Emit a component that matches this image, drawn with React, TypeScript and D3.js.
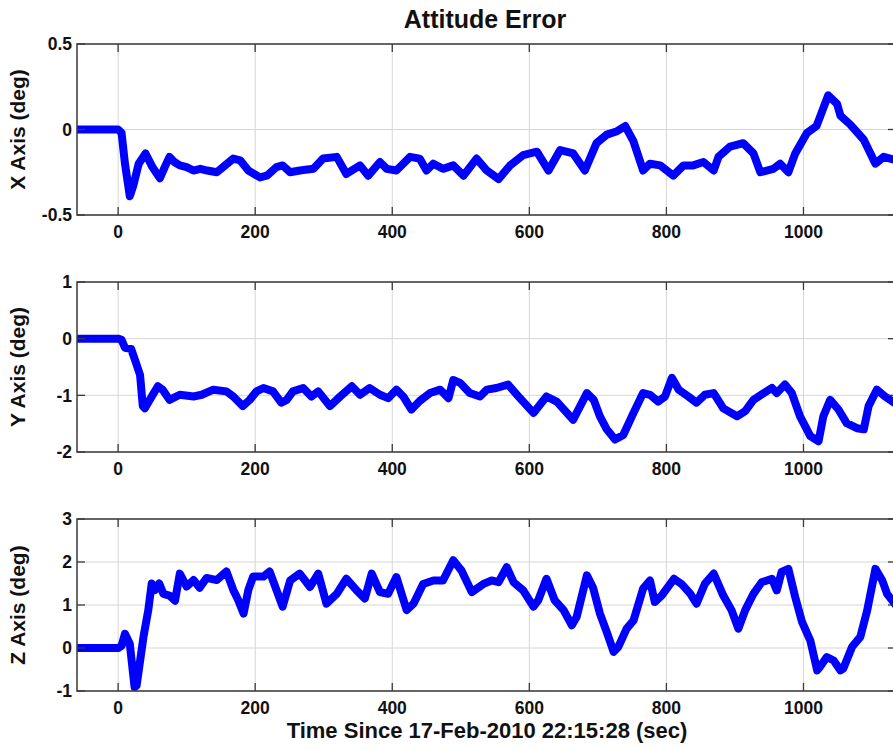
import React from "react";
import * as d3 from "d3";

// ---- Data (time in sec, attitude error in deg) ----
const xTicks = [0, 200, 400, 600, 800, 1000];

const xAxisErr: [number, number][] = [
  [-60, 0], [0, 0], [5, -0.02], [10, -0.2], [17, -0.39], [22, -0.33], [30, -0.2], [40, -0.14], [50, -0.22],
  [61, -0.285], [68, -0.22], [75, -0.16], [82, -0.19], [90, -0.21], [100, -0.22], [110, -0.24], [120, -0.23],
  [130, -0.24], [144, -0.25], [153, -0.22], [168, -0.17], [178, -0.18], [190, -0.24], [207, -0.28], [217, -0.27],
  [231, -0.22], [240, -0.21], [251, -0.25], [265, -0.24], [285, -0.23], [299, -0.17], [319, -0.16], [333, -0.26],
  [353, -0.21], [365, -0.27], [382, -0.19], [392, -0.23], [406, -0.24], [426, -0.16], [440, -0.17], [450, -0.24],
  [460, -0.2], [474, -0.23], [489, -0.21], [504, -0.27], [523, -0.17], [538, -0.24], [555, -0.29], [572, -0.21],
  [591, -0.15], [611, -0.13], [628, -0.24], [645, -0.12], [664, -0.14], [681, -0.24], [698, -0.08], [713, -0.03],
  [728, -0.01], [740, 0.02], [752, -0.07], [766, -0.24], [776, -0.2], [791, -0.21], [810, -0.27], [825, -0.21],
  [839, -0.21], [854, -0.19], [869, -0.24], [876, -0.16], [893, -0.1], [912, -0.08], [927, -0.14], [937, -0.25],
  [956, -0.23], [966, -0.2], [978, -0.25], [988, -0.14], [1005, -0.02], [1019, 0.02], [1036, 0.2], [1049, 0.15],
  [1054, 0.08], [1068, 0.03], [1088, -0.06], [1105, -0.2], [1117, -0.16], [1135, -0.18],
];

const yAxisErr: [number, number][] = [
  [-60, 0], [0, 0], [5, -0.02], [10, -0.16], [19, -0.18], [27, -0.46], [32, -0.64], [36, -1.19], [39, -1.23],
  [49, -1.02], [58, -0.84], [65, -0.9], [75, -1.08], [90, -0.99], [110, -1.02], [122, -0.99], [139, -0.9],
  [158, -0.93], [168, -1.02], [182, -1.19], [192, -1.08], [202, -0.93], [212, -0.87], [226, -0.93], [238, -1.13],
  [246, -1.08], [255, -0.93], [270, -0.87], [282, -1.02], [292, -0.93], [309, -1.19], [324, -1.02], [341, -0.84],
  [353, -0.99], [367, -0.87], [382, -0.99], [394, -1.05], [406, -0.9], [416, -1.02], [428, -1.25], [440, -1.1],
  [455, -0.96], [470, -0.9], [482, -1.05], [489, -0.73], [499, -0.78], [513, -0.96], [528, -1.02], [538, -0.9],
  [552, -0.87], [569, -0.81], [582, -0.99], [606, -1.31], [625, -1.02], [640, -1.11], [664, -1.43], [684, -0.96],
  [694, -1.08], [703, -1.37], [713, -1.6], [725, -1.78], [737, -1.7], [752, -1.31], [766, -0.96], [776, -0.99],
  [788, -1.11], [798, -1.02], [808, -0.69], [818, -0.9], [832, -1.02], [844, -1.13], [856, -0.99], [869, -0.96],
  [883, -1.23], [903, -1.37], [915, -1.28], [927, -1.08], [942, -0.96], [954, -0.87], [961, -0.96], [973, -0.81],
  [983, -0.96], [995, -1.37], [1010, -1.72], [1022, -1.81], [1029, -1.37], [1039, -1.08], [1051, -1.25],
  [1063, -1.49], [1078, -1.58], [1088, -1.6], [1095, -1.19], [1107, -0.9], [1119, -1.02], [1135, -1.15],
];

const zAxisErr: [number, number][] = [
  [-60, 0], [0, 0], [5, 0.05], [10, 0.33], [17, 0.1], [24, -0.91], [27, -0.87], [37, 0.26], [44, 0.88], [49, 1.5],
  [54, 1.35], [60, 1.5], [66, 1.26], [75, 1.22], [83, 1.1], [90, 1.73], [100, 1.43], [110, 1.58], [119, 1.4],
  [129, 1.63], [144, 1.58], [158, 1.78], [168, 1.35], [175, 1.12], [183, 0.8], [190, 1.35], [197, 1.66],
  [212, 1.66], [221, 1.78], [231, 1.35], [240, 0.96], [251, 1.57], [265, 1.73], [280, 1.42], [292, 1.73],
  [304, 1.03], [319, 1.26], [333, 1.61], [348, 1.34], [360, 1.15], [370, 1.73], [382, 1.3], [394, 1.26],
  [406, 1.65], [421, 0.88], [431, 1.03], [445, 1.49], [460, 1.57], [474, 1.57], [489, 2.04], [501, 1.8],
  [516, 1.3], [533, 1.49], [545, 1.57], [555, 1.53], [567, 1.88], [577, 1.53], [591, 1.34], [606, 0.96],
  [613, 1.11], [625, 1.61], [637, 1.11], [650, 0.88], [662, 0.53], [669, 0.72], [684, 1.69], [693, 1.4],
  [703, 0.8], [713, 0.37], [723, -0.09], [730, 0.03], [742, 0.45], [752, 0.64], [766, 1.38], [776, 1.57],
  [783, 1.07], [793, 1.22], [811, 1.61], [822, 1.49], [835, 1.26], [844, 1.03], [856, 1.49], [869, 1.73],
  [883, 1.22], [895, 0.88], [905, 0.45], [915, 0.88], [927, 1.26], [939, 1.53], [954, 1.61], [961, 1.34],
  [968, 1.77], [978, 1.84], [988, 1.18], [998, 0.6], [1010, 0.17], [1020, -0.52], [1024, -0.44], [1034, -0.21],
  [1044, -0.29], [1054, -0.52], [1058, -0.48], [1071, 0.03], [1083, 0.26], [1093, 0.88], [1105, 1.84],
  [1115, 1.57], [1122, 1.26], [1135, 0.99],
];

const panelLabels = ["X Axis (deg)", "Y Axis (deg)", "Z Axis (deg)"];
const panelDomains: [number, number][] = [[-0.5, 0.5], [-2, 1], [-1, 3]];
const panelYTicks = [[-0.5, 0, 0.5], [-2, -1, 0, 1], [-1, 0, 1, 2, 3]];
const panelData = [xAxisErr, yAxisErr, zAxisErr];
const title = "Attitude Error";
const xLabel = "Time Since 17-Feb-2010 22:15:28 (sec)";

// ---- Layout ----
const W = 893;
const H = 750;
const left = 77;
const right = 896;
const panelBoxes = [
  { top: 44, bottom: 215 },
  { top: 282, bottom: 452 },
  { top: 519, bottom: 691 },
];
const FONT = "'Liberation Sans', Arial, Helvetica, sans-serif";
const TICK_FS = 17.5;

const xScale = d3.scaleLinear().domain([-60, 1135]).range([left, right]);

function Panel({ idx }: { idx: number }) {
  const { top, bottom } = panelBoxes[idx];
  const y = d3.scaleLinear().domain(panelDomains[idx]).range([bottom, top]);
  const line = d3
    .line<[number, number]>()
    .x((d) => xScale(d[0]))
    .y((d) => y(d[1]))
    .curve(d3.curveLinear);
  const clipId = `clip${idx}`;
  const tickLen = 8;
  const axisColor = "#3a3a3a";
  return (
    <g>
      <defs>
        <clipPath id={clipId}>
          <rect x={left} y={top} width={right - left} height={bottom - top} />
        </clipPath>
      </defs>
      <rect x={left} y={top} width={right - left} height={bottom - top} fill="#fff" />
      {xTicks.map((t) => (
        <line key={"gx" + t} x1={xScale(t)} x2={xScale(t)} y1={top} y2={bottom} stroke="#d6d6d6" strokeWidth={1} />
      ))}
      {panelYTicks[idx].map((t) => (
        <line key={"gy" + t} x1={left} x2={right} y1={y(t)} y2={y(t)} stroke="#d6d6d6" strokeWidth={1} />
      ))}
      <path
        d={line(panelData[idx]) || ""}
        fill="none"
        stroke="#0000ff"
        strokeWidth={8}
        strokeLinejoin="round"
        strokeLinecap="round"
        clipPath={`url(#${clipId})`}
      />
      <rect x={left} y={top} width={right - left} height={bottom - top} fill="none" stroke={axisColor} strokeWidth={1.5} />
      {xTicks.map((t) => (
        <g key={"tx" + t}>
          <line x1={xScale(t)} x2={xScale(t)} y1={bottom} y2={bottom - tickLen} stroke={axisColor} strokeWidth={1.3} />
          <line x1={xScale(t)} x2={xScale(t)} y1={top} y2={top + tickLen} stroke={axisColor} strokeWidth={1.3} />
          <text
            x={xScale(t)}
            y={bottom + 23}
            textAnchor="middle"
            fontFamily={FONT}
            fontWeight="bold"
            fontSize={TICK_FS}
            fill="#111"
          >
            {t}
          </text>
        </g>
      ))}
      {panelYTicks[idx].map((t) => (
        <g key={"ty" + t}>
          <line x1={left} x2={left + tickLen} y1={y(t)} y2={y(t)} stroke={axisColor} strokeWidth={1.3} />
          <line x1={right} x2={right - tickLen} y1={y(t)} y2={y(t)} stroke={axisColor} strokeWidth={1.3} />
          <text
            x={left - 5}
            y={y(t)}
            dy="0.36em"
            textAnchor="end"
            fontFamily={FONT}
            fontWeight="bold"
            fontSize={TICK_FS}
            fill="#111"
          >
            {String(t)}
          </text>
        </g>
      ))}
      <text
        transform={`translate(25,${(top + bottom) / 2}) rotate(-90)`}
        textAnchor="middle"
        fontFamily={FONT}
        fontWeight="bold"
        fontSize={21}
        fill="#111"
      >
        {panelLabels[idx]}
      </text>
    </g>
  );
}

export default function App() {
  return (
    <svg
      width={W}
      height={H}
      viewBox={`0 0 ${W} ${H}`}
      style={{ position: "absolute", left: 0, top: 0, display: "block", background: "#fff" }}
    >
      <rect x={0} y={0} width={W} height={H} fill="#fff" />
      {panelBoxes.map((_, i) => (
        <Panel key={i} idx={i} />
      ))}
      <text x={485} y={28} textAnchor="middle" fontFamily={FONT} fontWeight="bold" fontSize={25} fill="#111">
        {title}
      </text>
      <text x={487} y={738} textAnchor="middle" fontFamily={FONT} fontWeight="bold" fontSize={22} fill="#111">
        {xLabel}
      </text>
    </svg>
  );
}
